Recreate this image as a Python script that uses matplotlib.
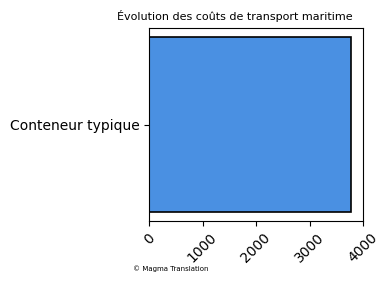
import matplotlib
matplotlib.use("Agg")
import matplotlib.pyplot as plt

categories = ["Conteneur typique"]
values = [3780]

fig, ax = plt.subplots(figsize=(3.9, 2.81), dpi=100)
ax.barh(categories, values, color="#4a90e2", edgecolor="black", linewidth=1.2)
ax.set_xlim(0, 4000)
ax.set_xticks([0, 1000, 2000, 3000, 4000])
ax.tick_params(axis="x", labelrotation=45)
ax.set_title("Évolution des coûts de transport maritime", fontsize=8, x=0.40)
fig.subplots_adjust(left=0.382, right=0.931, top=0.9, bottom=0.2135)
fig.text(0.341, 0.035, "© Magma Translation", fontsize=5)
fig.savefig("out.png", dpi=100)
